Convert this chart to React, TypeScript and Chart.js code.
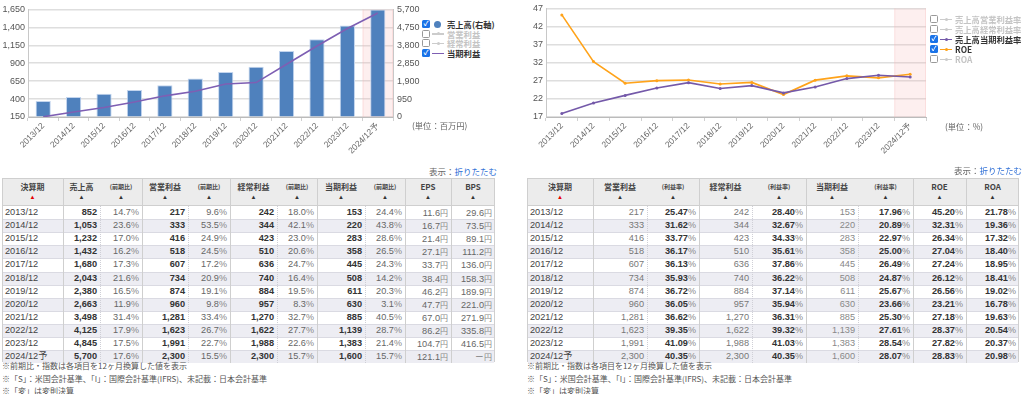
import React, { useEffect, useRef } from 'react';
import { Chart, registerables } from 'chart.js';
Chart.register(...registerables);

// ---------- data ----------
const periods = ['2013/12', '2014/12', '2015/12', '2016/12', '2017/12', '2018/12', '2019/12', '2020/12', '2021/12', '2022/12', '2023/12', '2024/12予'];
const sales = [852, 1053, 1232, 1432, 1680, 2043, 2380, 2663, 3498, 4125, 4845, 5700];
const salesYoY = [14.7, 23.6, 17.0, 16.2, 17.3, 21.6, 16.5, 11.9, 31.4, 17.9, 17.5, 17.6];
const opIncome = [217, 333, 416, 518, 607, 734, 874, 960, 1281, 1623, 1991, 2300];
const opYoY = [9.6, 53.5, 24.9, 24.5, 17.2, 20.9, 19.1, 9.8, 33.4, 26.7, 22.7, 15.5];
const ordIncome = [242, 344, 423, 510, 636, 740, 884, 957, 1270, 1622, 1988, 2300];
const ordYoY = [18.0, 42.1, 23.0, 20.6, 24.7, 16.4, 19.5, 8.3, 32.7, 27.7, 22.6, 15.7];
const netIncome = [153, 220, 283, 358, 445, 508, 611, 630, 885, 1139, 1383, 1600];
const netYoY = [24.4, 43.8, 28.6, 26.5, 24.3, 14.2, 20.3, 3.1, 40.5, 28.7, 21.4, 15.7];
const eps = [11.6, 16.7, 21.4, 27.1, 33.7, 38.4, 46.2, 47.7, 67.0, 86.2, 104.7, 121.1];
const bps: (number | null)[] = [29.6, 73.5, 89.1, 111.2, 136.0, 158.3, 189.9, 221.0, 271.9, 335.8, 416.5, null];

const opMargin = [25.47, 31.62, 33.77, 36.17, 36.13, 35.93, 36.72, 36.05, 36.62, 39.35, 41.09, 40.35];
const ordMargin = [28.40, 32.67, 34.33, 35.61, 37.86, 36.22, 37.14, 35.94, 36.31, 39.32, 41.03, 40.35];
const netMargin = [17.96, 20.89, 22.97, 25.00, 26.49, 24.87, 25.67, 23.66, 25.30, 27.61, 28.54, 28.07];
const roe = [45.20, 32.31, 26.34, 27.04, 27.24, 26.12, 26.56, 23.21, 27.18, 28.37, 27.82, 28.83];
const roa = [21.78, 19.36, 17.32, 18.40, 18.95, 18.41, 19.02, 16.78, 19.63, 20.54, 20.37, 20.98];

const leftAxisTicks = { min: 150, max: 1650, step: 250 };
const rightAxisTicks = { min: 0, max: 5700, step: 950 };
const ratioAxisTicks = { min: 17, max: 47, step: 5 };

const leftHeaders = ['決算期', '売上高', '(前期比)', '営業利益', '(前期比)', '経常利益', '(前期比)', '当期利益', '(前期比)', 'EPS', 'BPS'];
const rightHeaders = ['決算期', '営業利益', '(利益率)', '経常利益', '(利益率)', '当期利益', '(利益率)', 'ROE', 'ROA'];
const notes = ['※前期比・指数は各項目を12ヶ月換算した値を表示', '※「S」：米国会計基準、「I」：国際会計基準(IFRS)、未記載：日本会計基準', '※「変」は変則決算'];

// ---------- styles ----------
const FONT = "'Liberation Sans', 'Noto Sans CJK JP', sans-serif";
const CJK = "'Noto Sans CJK JP', 'Liberation Sans', sans-serif";
const fmt = (v: number) => v.toLocaleString('en-US');

const forecastBand = {
  id: 'forecastBand',
  beforeDatasetsDraw(chart: any) {
    const x = chart.scales.x;
    const a = chart.chartArea;
    const n = chart.data.labels.length;
    const w = x.getPixelForValue(1) - x.getPixelForValue(0);
    const cx = x.getPixelForValue(n - 1);
    const ctx = chart.ctx;
    ctx.save();
    ctx.fillStyle = 'rgba(248,180,180,0.22)';
    ctx.fillRect(cx - w / 2, a.top, w, a.bottom - a.top);
    ctx.fillStyle = 'rgba(245,190,190,0.35)';
    ctx.fillRect(cx - w / 2, a.top, 1, a.bottom - a.top);
    ctx.fillRect(cx + w / 2 - 1, a.top, 1, a.bottom - a.top);
    ctx.restore();
  },
};

function LeftChart() {
  const ref = useRef<HTMLCanvasElement>(null);
  useEffect(() => {
    const chart = new Chart(ref.current!, {
      type: 'bar',
      data: {
        labels: periods,
        datasets: [
          { type: 'line', label: '当期利益', data: netIncome, yAxisID: 'y', borderColor: '#7e5fb3', borderWidth: 1.6, pointRadius: 0, order: 0 } as any,
          { type: 'bar', label: '売上高', data: sales, yAxisID: 'y1', backgroundColor: '#4f81bd', borderColor: '#c3d5ee', borderWidth: 1, barPercentage: 0.5, categoryPercentage: 1, order: 1 } as any,
        ],
      },
      options: {
        responsive: false,
        animation: false,
        layout: { padding: { top: 6 } },
        plugins: { legend: { display: false }, tooltip: { enabled: false } },
        scales: {
          x: {
            offset: true,
            grid: { offset: true, drawOnChartArea: false, tickLength: 4, color: '#d0d0d0' },
            border: { color: '#bbb' },
            ticks: { font: { size: 8.5, family: FONT }, color: '#666', maxRotation: 45, minRotation: 45, autoSkip: false, padding: 0 },
            afterFit: (s: any) => { s.height = 43; },
          },
          y: {
            position: 'left',
            min: leftAxisTicks.min, max: leftAxisTicks.max,
            ticks: { stepSize: leftAxisTicks.step, callback: (v: any) => fmt(v), font: { size: 9, family: FONT }, color: '#555', padding: 3 },
            grid: { color: '#dedede', lineWidth: 1.5, drawTicks: false },
            border: { color: '#c8c8c8' },
            afterFit: (s: any) => { s.width = 28; },
          },
          y1: {
            position: 'right',
            min: rightAxisTicks.min, max: rightAxisTicks.max,
            ticks: { stepSize: rightAxisTicks.step, callback: (v: any) => fmt(v), font: { size: 9, family: FONT }, color: '#555', padding: 4 },
            grid: { drawOnChartArea: false, drawTicks: false },
            border: { color: '#c8c8c8' },
            afterFit: (s: any) => { s.width = 27; },
          },
        },
      } as any,
      plugins: [forecastBand],
    });
    return () => chart.destroy();
  }, []);
  return <canvas ref={ref} width={420} height={160} style={{ position: 'absolute', left: 0, top: 0, width: 420, height: 160 }} />;
}

function RightChart() {
  const ref = useRef<HTMLCanvasElement>(null);
  useEffect(() => {
    const chart = new Chart(ref.current!, {
      type: 'line',
      data: {
        labels: periods,
        datasets: [
          { label: 'ROE', data: roe, borderColor: '#ffa31a', backgroundColor: '#ffa31a', borderWidth: 1.6, pointRadius: 1.5, pointBorderWidth: 0, order: 1 },
          { label: '売上高当期利益率', data: netMargin, borderColor: '#7459a9', backgroundColor: '#7459a9', borderWidth: 1.6, pointRadius: 1.5, pointBorderWidth: 0, order: 0 },
        ],
      },
      options: {
        responsive: false,
        animation: false,
        layout: { padding: { top: 6, right: 6 } },
        plugins: { legend: { display: false }, tooltip: { enabled: false } },
        scales: {
          x: {
            offset: true,
            grid: { offset: true, drawOnChartArea: false, tickLength: 4, color: '#d0d0d0' },
            border: { color: '#bbb' },
            ticks: { font: { size: 8.5, family: FONT }, color: '#666', maxRotation: 45, minRotation: 45, autoSkip: false, padding: 0 },
            afterFit: (s: any) => { s.height = 43; },
          },
          y: {
            min: ratioAxisTicks.min, max: ratioAxisTicks.max,
            ticks: { stepSize: ratioAxisTicks.step, font: { size: 9, family: FONT }, color: '#555', padding: 3 },
            grid: { color: '#dedede', lineWidth: 1.5, drawTicks: false },
            border: { color: '#c8c8c8' },
            afterFit: (s: any) => { s.width = 34; },
          },
        },
      } as any,
      plugins: [forecastBand],
    });
    return () => chart.destroy();
  }, []);
  return <canvas ref={ref} width={420} height={160} style={{ position: 'absolute', left: 512, top: 0, width: 420, height: 160 }} />;
}

// ---------- legend ----------
type LegendItem = { label: string; on: boolean; color: string; marker: 'circle' | 'line' | 'linedot' };
function Legend({ items, left, top, gap }: { items: LegendItem[]; left: number; top: number; gap: number }) {
  return (
    <div style={{ position: 'absolute', left, top }}>
      {items.map((it, i) => (
        <div key={i} style={{ position: 'absolute', left: 0, top: i * gap, height: 10, display: 'flex', alignItems: 'center', whiteSpace: 'nowrap' }}>
          <span style={{ width: 8, height: 8, boxSizing: 'border-box', borderRadius: 1.5, background: it.on ? '#1a73e8' : '#fff', border: it.on ? 'none' : '1px solid #999', display: 'inline-flex', alignItems: 'center', justifyContent: 'center', color: '#fff', fontSize: 7, lineHeight: '8px', fontFamily: FONT, fontWeight: 'bold' }}>{it.on ? '✓' : ''}</span>
          <span style={{ position: 'relative', width: 12, height: 8, marginLeft: 2, display: 'inline-block' }}>
            {it.marker === 'circle' ? (
              <span style={{ position: 'absolute', left: 2, top: 0.5, width: 7, height: 7, borderRadius: 4, background: it.color }} />
            ) : (
              <>
                <span style={{ position: 'absolute', left: 0, top: 3.5, width: 12, height: 1.5, background: it.color }} />
                {it.marker === 'linedot' ? <span style={{ position: 'absolute', left: 4.5, top: 2.5, width: 3, height: 3, borderRadius: 2, background: it.color }} /> : null}
              </>
            )}
          </span>
          <span style={{ marginLeft: 3, fontFamily: CJK, fontSize: 8.3, fontWeight: 'bold', color: it.on ? '#333' : '#c4c4c4', lineHeight: '10px' }}>{it.label}</span>
        </div>
      ))}
    </div>
  );
}

// ---------- tables ----------
type Cell = { text: string; unit?: string; bold?: boolean; color?: string; left?: boolean };
type Col = { width: number; border: 'solid' | 'dotted' };

function DataTable({ left, top, headers, cols, rows }: { left: number; top: number; headers: string[]; cols: Col[]; rows: Cell[][] }) {
  const total = cols.reduce((a, c) => a + c.width, 0);
  const headH = 27;
  const rowH = 13.1;
  return (
    <div style={{ position: 'absolute', left, top, width: total, height: headH + rowH * rows.length, boxSizing: 'border-box', border: '1px solid #cfcfcf', background: '#fff' }}>
      <div style={{ position: 'absolute', left: 0, top: 0, width: total - 2, height: headH, background: '#ececec', borderBottom: '1px solid #cfcfcf', boxSizing: 'border-box' }} />
      {rows.map((_, r) => (
        <div key={'bg' + r} style={{ position: 'absolute', left: 0, top: headH + r * rowH, width: total - 2, height: rowH, background: r % 2 ? '#ededf3' : '#fff', borderTop: r ? '1px solid #dadae2' : 'none', boxSizing: 'border-box' }} />
      ))}
      {cols.map((c, ci) => {
        const x = cols.slice(0, ci).reduce((a, cc) => a + cc.width, 0) - 1;
        return (
          <React.Fragment key={'col' + ci}>
            {ci > 0 ? (
              <div style={{ position: 'absolute', left: x - 0.5, top: c.border === 'dotted' ? headH : 0, width: 0, height: c.border === 'dotted' ? rowH * rows.length : headH + rowH * rows.length, borderLeft: c.border === 'dotted' ? '1px dotted #cfcfd6' : '1px solid #cfcfcf' }} />
            ) : null}
            <div style={{ position: 'absolute', left: x, top: 3, width: c.width, textAlign: 'center', fontFamily: CJK, fontSize: headers[ci].startsWith('(') ? 6 : 8, fontWeight: 'bold', color: '#444', lineHeight: '10px' }}>{headers[ci]}</div>
            <div style={{ position: 'absolute', left: x, top: 14, width: c.width, textAlign: 'center', fontFamily: FONT, fontSize: 6, color: ci === 0 ? '#e60000' : '#333', lineHeight: '8px' }}>▲</div>
            {rows.map((row, r) => {
              const cell = row[ci];
              return (
                <div key={r} style={{ position: 'absolute', left: x + 3, top: headH + r * rowH, width: c.width - 6, height: rowH, lineHeight: rowH + 'px', textAlign: cell.left ? 'left' : 'right', fontFamily: FONT, fontSize: 9.2, fontWeight: cell.bold ? 'bold' : 'normal', color: cell.color || '#333', whiteSpace: 'nowrap' }}>
                  {cell.text}
                  {cell.unit ? <span style={{ fontWeight: 'normal', color: '#888', fontSize: cell.unit === '円' ? 8 : 9, fontFamily: cell.unit === '円' ? CJK : FONT }}>{cell.unit}</span> : null}
                </div>
              );
            })}
          </React.Fragment>
        );
      })}
    </div>
  );
}

const leftCols: Col[] = [
  { width: 61, border: 'solid' }, { width: 37, border: 'solid' }, { width: 42, border: 'dotted' },
  { width: 46, border: 'solid' }, { width: 42, border: 'dotted' }, { width: 47, border: 'solid' }, { width: 40, border: 'dotted' },
  { width: 48, border: 'solid' }, { width: 40, border: 'dotted' }, { width: 46, border: 'solid' }, { width: 44, border: 'solid' },
];
const rightCols: Col[] = [
  { width: 66, border: 'solid' }, { width: 54, border: 'solid' }, { width: 52, border: 'dotted' },
  { width: 53, border: 'solid' }, { width: 54, border: 'dotted' }, { width: 52, border: 'solid' }, { width: 55, border: 'dotted' },
  { width: 53, border: 'solid' }, { width: 53, border: 'solid' },
];

const pct1 = (v: number): Cell => ({ text: v.toFixed(1), unit: '%', color: '#666' });
const leftRows: Cell[][] = periods.map((p, i) => [
  { text: p, left: true, color: '#444' },
  { text: fmt(sales[i]), bold: true },
  pct1(salesYoY[i]),
  { text: fmt(opIncome[i]), bold: true },
  pct1(opYoY[i]),
  { text: fmt(ordIncome[i]), bold: true },
  pct1(ordYoY[i]),
  { text: fmt(netIncome[i]), bold: true },
  pct1(netYoY[i]),
  { text: eps[i].toFixed(1), unit: '円', color: '#666' },
  { text: bps[i] === null ? '－' : (bps[i] as number).toFixed(1), unit: '円', color: '#666' },
]);
const pct2 = (v: number): Cell => ({ text: v.toFixed(2), unit: '%', bold: true, color: '#333' });
const rightRows: Cell[][] = periods.map((p, i) => [
  { text: p, left: true, color: '#444' },
  { text: fmt(opIncome[i]), color: '#777' },
  pct2(opMargin[i]),
  { text: fmt(ordIncome[i]), color: '#777' },
  pct2(ordMargin[i]),
  { text: fmt(netIncome[i]), color: '#888' },
  pct2(netMargin[i]),
  pct2(roe[i]),
  pct2(roa[i]),
]);

function Notes({ left, top }: { left: number; top: number }) {
  return (
    <div style={{ position: 'absolute', left, top, fontFamily: CJK, fontSize: 8, color: '#555', lineHeight: '12.5px', whiteSpace: 'nowrap' }}>
      {notes.map((n, i) => <div key={i}>{n}</div>)}
    </div>
  );
}

function Toggle({ right, top }: { right: number; top: number }) {
  return (
    <div style={{ position: 'absolute', left: right - 80, width: 80, top, textAlign: 'right', fontFamily: CJK, fontSize: 8.5, lineHeight: '11px', whiteSpace: 'nowrap' }}>
      <span style={{ color: '#666' }}>表示：</span><span style={{ color: '#2f6fd6' }}>折りたたむ</span>
    </div>
  );
}

export default function App() {
  const leftLegend: LegendItem[] = [
    { label: '売上高(右軸)', on: true, color: '#4f81bd', marker: 'circle' },
    { label: '営業利益', on: false, color: '#ccc', marker: 'linedot' },
    { label: '経常利益', on: false, color: '#ccc', marker: 'linedot' },
    { label: '当期利益', on: true, color: '#7e5fb3', marker: 'line' },
  ];
  const rightLegend: LegendItem[] = [
    { label: '売上高営業利益率', on: false, color: '#ccc', marker: 'linedot' },
    { label: '売上高経常利益率', on: false, color: '#ccc', marker: 'linedot' },
    { label: '売上高当期利益率', on: true, color: '#7459a9', marker: 'linedot' },
    { label: 'ROE', on: true, color: '#ffa31a', marker: 'linedot' },
    { label: 'ROA', on: false, color: '#ccc', marker: 'linedot' },
  ];
  return (
    <div style={{ position: 'absolute', left: 0, top: 0, width: 1024, height: 394, background: '#fff', overflow: 'hidden' }}>
      <LeftChart />
      <RightChart />
      <Legend items={leftLegend} left={422} top={19} gap={9.7} />
      <Legend items={rightLegend} left={930} top={14} gap={10} />
      <div style={{ position: 'absolute', left: 412, top: 120, fontFamily: CJK, fontSize: 8.3, color: '#666', lineHeight: '11px' }}>(単位：百万円)</div>
      <div style={{ position: 'absolute', left: 945, top: 121, fontFamily: CJK, fontSize: 8.3, color: '#666', lineHeight: '11px' }}>(単位：%)</div>
      <Toggle right={497} top={166} />
      <Toggle right={1022} top={165} />
      <DataTable left={2} top={178} headers={leftHeaders} cols={leftCols} rows={leftRows} />
      <DataTable left={527} top={178} headers={rightHeaders} cols={rightCols} rows={rightRows} />
      <Notes left={2} top={360} />
      <Notes left={527} top={360} />
    </div>
  );
}
